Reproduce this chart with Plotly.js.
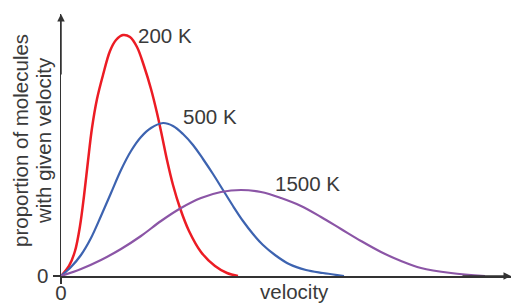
<!DOCTYPE html>
<html>
<head>
<meta charset="utf-8">
<script src="https://cdn.plot.ly/plotly-3.0.1.min.js"></script>
<style>html,body{margin:0;padding:0;background:#fff;}#chart{width:512px;height:304px;}</style>
</head>
<body>
<div id="chart"></div>
<script>
// velocity (arbitrary units) and proportion of molecules (arbitrary units)
const redX = [0, 8, 14, 19, 23, 27, 31, 36, 42, 49, 55, 62, 69, 76, 83, 90, 96, 101, 106, 112, 119, 128, 140, 154, 166, 177];
const redY = [0, 10, 25, 50, 80, 115, 148, 177, 201, 225, 236, 241, 239, 229, 210, 187, 163, 140, 116, 91, 68, 45, 24, 10, 3, 0];

const blueX = [0, 10, 20, 30, 40, 50, 60, 70, 80, 90, 102, 112, 122, 132, 142, 152, 162, 172, 182, 192, 202, 214, 228, 245, 262, 283];
const blueY = [0, 9, 21, 38, 60, 83, 106, 125, 139, 148, 153, 150, 142, 131, 117, 102, 86, 70, 55, 42, 31, 21, 12, 6, 3, 0];

const purpleX = [0, 20, 40, 60, 80, 100, 120, 140, 160, 180, 200, 220, 240, 260, 280, 300, 320, 340, 360, 390, 424];
const purpleY = [0, 7, 16, 27, 40, 55, 68, 78, 84, 86, 84, 78, 70, 59, 47, 35, 24, 15, 8, 3, 0];

const seriesNames = ['200 K', '500 K', '1500 K'];
const labelX = [103.5, 148.5, 246.5];
const labelY = [241, 160, 93];
const xTickVals = [0];
const xTickText = ['0'];
const yTickVals = [0];
const yTickText = ['0'];
const xTitle = 'velocity';
const yTitleLines = ['proportion of molecules', 'with given velocity'];

const colors = ['#ec1c24', '#3d63b0', '#8b55a6'];
const widths = [2.5, 2.2, 2.2];
const xs = [redX, blueX, purpleX];
const ys = [redY, blueY, purpleY];

const traces = xs.map((x, i) => ({
  x: x, y: ys[i], type: 'scatter', mode: 'lines', name: seriesNames[i],
  line: {color: colors[i], width: widths[i], shape: 'spline', smoothing: 1}
}));

const textColor = '#3a3a3a';
const font = {family: '"Liberation Sans", Arial, sans-serif', size: 20.5, color: textColor};

const annotations = seriesNames.map((n, i) => ({
  x: labelX[i], y: labelY[i], xref: 'x', yref: 'y', text: n, showarrow: false,
  font: font, xanchor: 'center', yanchor: 'middle'
}));
// axis titles
annotations.push({x: (294 - 61) / 450, y: (276 - 291) / 262, xref: 'paper', yref: 'paper',
  text: xTitle, showarrow: false, font: font, xanchor: 'center', yanchor: 'middle'});
const yTitleX = [20, 43];
yTitleLines.forEach((t, i) => annotations.push({
  x: (yTitleX[i] - 61) / 450, y: (276 - 141) / 262, xref: 'paper', yref: 'paper',
  text: t, textangle: -90, showarrow: false, font: font, xanchor: 'center', yanchor: 'middle'
}));
// axis arrowheads
annotations.push({x: 0, y: 262, ax: 0, ay: 200, xref: 'x', yref: 'y', axref: 'x', ayref: 'y',
  text: '', showarrow: true, arrowhead: 2, arrowsize: 1, arrowwidth: 1.5, arrowcolor: '#333'});
annotations.push({x: 450, y: 0, ax: 400, ay: 0, xref: 'x', yref: 'y', axref: 'x', ayref: 'y',
  text: '', showarrow: true, arrowhead: 2, arrowsize: 1, arrowwidth: 1.5, arrowcolor: '#333'});

const layout = {
  width: 512, height: 304,
  margin: {l: 61, r: 1, t: 14, b: 28},
  paper_bgcolor: '#fff', plot_bgcolor: '#fff',
  showlegend: false,
  font: font,
  xaxis: {
    range: [0, 450], showgrid: false, zeroline: false,
    showline: true, linecolor: '#333', linewidth: 1.5,
    tickvals: xTickVals, ticktext: xTickText, ticks: 'outside', ticklen: 6, tickwidth: 1.5, tickcolor: '#333',
    tickfont: font, ticklabelstandoff: -8
  },
  yaxis: {
    range: [0, 262], showgrid: false, zeroline: false,
    showline: true, linecolor: '#333', linewidth: 1.5,
    tickvals: yTickVals, ticktext: yTickText, ticks: 'outside', ticklen: 7, tickwidth: 1.5, tickcolor: '#333',
    tickfont: font
  },
  annotations: annotations
};

Plotly.newPlot('chart', traces, layout, {staticPlot: true, displayModeBar: false});
</script>
</body>
</html>
